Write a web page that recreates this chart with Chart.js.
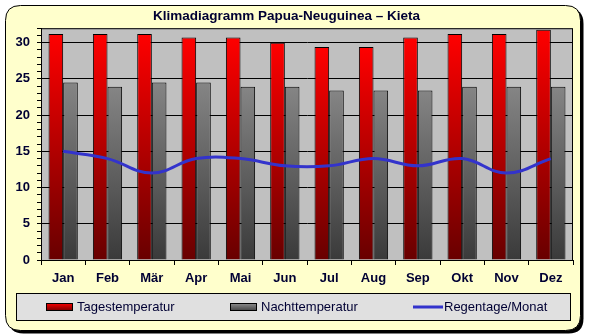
<!DOCTYPE html>
<html lang="de">
<head>
  <meta charset="UTF-8">
  <title>Klimadiagramm Papua-Neuguinea – Kieta</title>
  <style>
    body {
      margin: 0;
      padding: 0;
      background: #ffffff;
    }
    #klima {
      display: block;
    }
  </style>
</head>
<body>

  <canvas id="klima" width="589" height="336"></canvas>

  <script src="https://cdn.jsdelivr.net/npm/chart.js"></script>

  <script>
    const months   = ["Jan", "Feb", "Mär", "Apr", "Mai", "Jun", "Jul", "Aug", "Sep", "Okt", "Nov", "Dez"];
    const dayTemp  = [31.2, 31.2, 31.2, 30.7, 30.7, 30.0, 29.4, 29.4, 30.7, 31.2, 31.2, 31.8];
    const nightTemp = [24.5, 23.9, 24.5, 24.5, 23.9, 23.9, 23.4, 23.4, 23.4, 23.9, 23.9, 23.9];
    const rainDays = [15, 14, 12, 14, 14, 13, 13, 14, 13, 14, 12, 14];

    const textColor = "#000033";
    const fontFamily = "Arial, 'Liberation Sans', sans-serif";

    // vertical gradient running from the top of each bar down to the axis
    function barGradient(ctx, top, bottom) {
      const chart = ctx.chart;
      const area = chart.chartArea;
      if (!area) return top;
      const y = chart.scales.y;
      const yTop = y.getPixelForValue(ctx.raw);
      const g = chart.ctx.createLinearGradient(0, yTop, 0, area.bottom);
      g.addColorStop(0, top);
      g.addColorStop(1, bottom);
      return g;
    }

    function roundRect(c, x, y, w, h, r) {
      c.beginPath();
      c.moveTo(x + r, y);
      c.lineTo(x + w - r, y);
      c.quadraticCurveTo(x + w, y, x + w, y + r);
      c.lineTo(x + w, y + h - r);
      c.quadraticCurveTo(x + w, y + h, x + w - r, y + h);
      c.lineTo(x + r, y + h);
      c.quadraticCurveTo(x, y + h, x, y + h - r);
      c.lineTo(x, y + r);
      c.quadraticCurveTo(x, y, x + r, y);
      c.closePath();
    }

    // yellow rounded card with drop shadow, grey plot background
    const framePlugin = {
      id: "frame",
      beforeDraw(chart) {
        const c = chart.ctx;
        const a = chart.chartArea;
        c.save();
        c.fillStyle = "#ffffff";
        c.fillRect(0, 0, chart.width, chart.height);

        roundRect(c, 8.5, 8.5, 575, 325, 15);
        c.fillStyle = "#000000";
        c.fill();

        roundRect(c, 5.5, 5.5, 575, 325, 15);
        c.fillStyle = "#ffffcc";
        c.fill();
        c.lineWidth = 1;
        c.strokeStyle = "#000000";
        c.stroke();

        c.fillStyle = "#c0c0c0";
        c.fillRect(a.left, a.top, a.right - a.left, a.bottom - a.top);
        c.restore();
      },
      beforeDatasetsDraw(chart) {
        const c = chart.ctx;
        const a = chart.chartArea;
        c.save();
        c.strokeStyle = "#000000";
        c.lineWidth = 1;
        c.strokeRect(a.left + 0.5, a.top + 0.5, a.right - a.left - 1, a.bottom - a.top);
        c.restore();
      }
    };

    // boxed legend below the month labels
    const legendPlugin = {
      id: "boxLegend",
      afterDraw(chart) {
        const c = chart.ctx;
        const box = { x: 16.5, y: 293.5, w: 554, h: 27 };
        c.save();
        c.fillStyle = "#e0e0e0";
        c.fillRect(box.x, box.y, box.w, box.h);
        c.strokeStyle = "#000000";
        c.lineWidth = 1;
        c.strokeRect(box.x, box.y, box.w, box.h);

        const items = [
          { ds: chart.data.datasets[0], x: 46, top: "#ff0000", bottom: "#700000" },
          { ds: chart.data.datasets[1], x: 230, top: "#909090", bottom: "#404040" },
          { ds: chart.data.datasets[2], x: 413 }
        ];
        const midY = box.y + box.h / 2;
        c.font = "13px " + fontFamily;
        c.textBaseline = "middle";
        items.forEach(it => {
          if (it.ds.type === "line") {
            c.strokeStyle = it.ds.borderColor;
            c.lineWidth = 3;
            c.beginPath();
            c.moveTo(it.x, midY);
            c.lineTo(it.x + 30, midY);
            c.stroke();
          } else {
            const g = c.createLinearGradient(0, midY - 4, 0, midY + 4);
            g.addColorStop(0, it.top);
            g.addColorStop(1, it.bottom);
            c.fillStyle = g;
            c.fillRect(it.x, midY - 4, 27, 8);
            c.strokeStyle = "#000000";
            c.lineWidth = 1;
            c.strokeRect(it.x + 0.5, midY - 3.5, 26, 7);
          }
          c.fillStyle = textColor;
          c.fillText(it.ds.label, it.x + 31, midY + 0.5);
        });
        c.restore();
      }
    };

    new Chart(document.getElementById("klima"), {
      type: "bar",
      data: {
        labels: months,
        datasets: [
          {
            label: "Tagestemperatur",
            data: dayTemp,
            backgroundColor: ctx => barGradient(ctx, "#ff0000", "#680000"),
            borderColor: "#000000",
            borderWidth: 1,
            categoryPercentage: 0.66,
            barPercentage: 1.0,
            order: 1
          },
          {
            label: "Nachttemperatur",
            data: nightTemp,
            backgroundColor: ctx => barGradient(ctx, "#858585", "#3a3a3a"),
            borderColor: "#000000",
            borderWidth: 1,
            categoryPercentage: 0.66,
            barPercentage: 1.0,
            order: 1
          },
          {
            type: "line",
            label: "Regentage/Monat",
            data: rainDays,
            borderColor: "#3333cc",
            borderWidth: 3,
            tension: 0.4,
            pointRadius: 0,
            fill: false,
            order: 0
          }
        ]
      },
      options: {
        responsive: false,
        animation: false,
        devicePixelRatio: 1,
        layout: {
          padding: { left: 0, right: 16, top: 0, bottom: 46 }
        },
        plugins: {
          legend: { display: false },
          tooltip: { enabled: false },
          title: {
            display: true,
            text: "Klimadiagramm Papua-Neuguinea – Kieta",
            color: textColor,
            font: { family: fontFamily, size: 13.5, weight: "bold" },
            padding: { top: 8, bottom: 4 }
          }
        },
        scales: {
          x: {
            offset: true,
            grid: {
              offset: true,
              drawOnChartArea: false,
              color: "#000000",
              tickLength: 5
            },
            border: { color: "#000000" },
            ticks: {
              color: textColor,
              padding: 6,
              font: { family: fontFamily, size: 13, weight: "bold" }
            },
            afterFit(scale) { scale.height = 30; }
          },
          y: {
            min: 0,
            max: 32,
            grid: {
              color: ctx => (ctx.tick && ctx.tick.value % 5 === 0 ? "#000000" : "rgba(0,0,0,0)"),
              tickColor: "#000000",
              tickLength: 4
            },
            border: { color: "#000000" },
            ticks: {
              stepSize: 1,
              autoSkip: false,
              color: textColor,
              padding: 7,
              font: { family: fontFamily, size: 13, weight: "bold" },
              callback: v => (v % 5 === 0 ? v : "")
            },
            afterFit(scale) { scale.width = 41; }
          }
        }
      },
      plugins: [framePlugin, legendPlugin]
    });
  </script>

</body>
</html>
